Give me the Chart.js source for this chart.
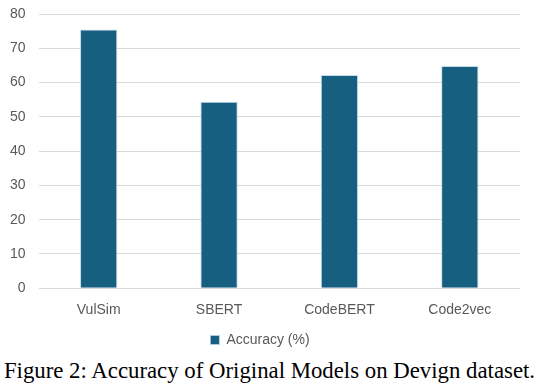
<!DOCTYPE html>
<html>
<head>
<meta charset="utf-8">
<script src="https://cdn.jsdelivr.net/npm/chart.js@4"></script>
<style>
  body { margin: 0; background: #fff; }
  #wrap { position: relative; width: 539px; height: 357px; }
  #caption {
    position: absolute; left: 0; top: 357px; width: 539px;
    text-align: center; font-family: "Liberation Serif", "Times New Roman", serif;
    font-size: 22.8px; line-height: 28px; color: #000; white-space: nowrap;
  }
</style>
</head>
<body>
<div id="wrap"><canvas id="chart"></canvas></div>
<div id="caption">Figure 2: Accuracy of Original Models on Devign dataset.</div>
<script>
// data
const models = ['VulSim', 'SBERT', 'CodeBERT', 'Code2vec'];
const accuracy = [75.5, 54.4, 62.2, 64.8];
const yTicks = [0, 10, 20, 30, 40, 50, 60, 70, 80];

const ctx = document.getElementById('chart').getContext('2d');
const chart = new Chart(ctx, {
    type: 'bar',
    data: {
        labels: models,
        datasets: [{
            label: 'Accuracy (%)',
            data: accuracy,
            backgroundColor: '#175f80',
            borderColor: 'rgba(190, 215, 228, 0.9)',
            borderWidth: { top: 1, left: 1, right: 1, bottom: 0 },
            barPercentage: 0.31,
            categoryPercentage: 1
        }]
    },
    options: {
        responsive: true,
        maintainAspectRatio: false,
        animation: false,
        layout: { padding: { top: 14, right: 19, left: 0, bottom: 0 } },
        scales: {
            x: {
                grid: { display: false },
                border: { display: false },
                ticks: { color: '#595959', font: { family: 'Liberation Sans', size: 14 }, padding: 6 }
            },
            y: {
                min: 0,
                max: 80,
                afterBuildTicks: function (scale) {
                    scale.ticks = yTicks.map(v => ({ value: v }));
                },
                afterFit: function (scale) {
                    scale.width = 38.5;
                    scale.paddingTop = 0;
                },
                grid: { color: '#d9d9d9', drawTicks: false },
                border: { display: false },
                ticks: { color: '#595959', font: { family: 'Liberation Sans', size: 14 }, padding: 13 }
            }
        },
        plugins: {
            legend: {
                display: true,
                position: 'bottom',
                labels: {
                    color: '#595959',
                    font: { family: 'Liberation Sans', size: 14 },
                    boxWidth: 9,
                    boxHeight: 9,
                    padding: 8
                }
            },
            tooltip: { enabled: false }
        }
    }
});
</script>
</body>
</html>
